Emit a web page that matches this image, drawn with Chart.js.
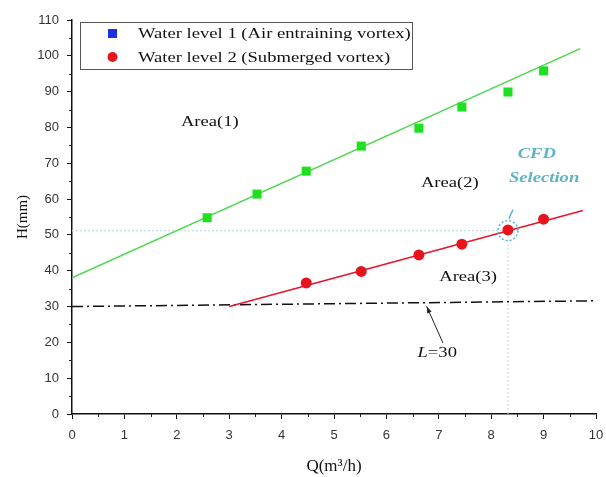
<!DOCTYPE html>
<html>
<head>
<meta charset="utf-8">
<script src="https://cdn.jsdelivr.net/npm/chart.js@4.4.1/dist/chart.umd.min.js"></script>
<style>
  html, body { margin: 0; padding: 0; background: #fff; }
  #wrap { width: 606px; height: 477px; }
</style>
</head>
<body>
<div id="wrap"><canvas id="chart" width="606" height="477"></canvas></div>
<script>
// 测量数据
const level1Q = [2.58, 3.53, 4.47, 5.52, 6.62, 7.44, 8.32, 9.0];
const level1H = [54.8, 61.4, 67.8, 74.8, 79.8, 85.7, 89.9, 95.8];
const level2Q = [4.47, 5.52, 6.62, 7.44, 8.32, 9.0];
const level2H = [36.6, 39.8, 44.4, 47.4, 51.4, 54.4];
// 拟合线与临界线
const fit1Q = [0, 9.7];
const fit1H = [38, 102];
const fit2Q = [3.0, 9.75];
const fit2H = [30, 56.8];
const limitQ = [0, 10];
const limitH = [30, 31.6];
// CFD 选点
const selQ = 8.32;
const selH = 51.2;
// 坐标轴
const xTicks = [0, 1, 2, 3, 4, 5, 6, 7, 8, 9, 10];
const yTicks = [0, 10, 20, 30, 40, 50, 60, 70, 80, 90, 100, 110];

const pts = (xs, ys) => xs.map((x, i) => ({x: x, y: ys[i]}));

const serif = '"Liberation Serif", "Times New Roman", serif';
const sans = '"Liberation Sans", Arial, sans-serif';

// 横向拉伸的文字（原图文字偏宽）
const wideText = (ctx, text, x, y, font, align) => {
    ctx.save();
    ctx.font = font;
    ctx.textAlign = align || 'center';
    ctx.textBaseline = 'middle';
    ctx.translate(x, y);
    ctx.scale(1.2, 1);
    ctx.fillText(text, 0, 0);
    ctx.restore();
};

const extras = {
    id: 'extras',
    afterDatasetsDraw(chart) {
        const {ctx, scales: {x, y}} = chart;
        ctx.save();
        // 次刻度
        ctx.strokeStyle = '#222';
        ctx.lineWidth = 1;
        ctx.beginPath();
        for (let i = 0; i < xTicks.length - 1; i++) {
            const px = Math.round(x.getPixelForValue(xTicks[i] + 0.5)) + 0.5;
            ctx.moveTo(px, y.bottom);
            ctx.lineTo(px, y.bottom + 3);
        }
        for (let i = 0; i < yTicks.length - 1; i++) {
            const py = Math.round(y.getPixelForValue(yTicks[i] + 5)) + 0.5;
            ctx.moveTo(x.left, py);
            ctx.lineTo(x.left - 3, py);
        }
        ctx.stroke();

        // CFD 选点圆圈
        const cx = x.getPixelForValue(selQ);
        const cy = y.getPixelForValue(selH);
        ctx.strokeStyle = '#5ab6d0';
        ctx.lineWidth = 1.5;
        ctx.setLineDash([2, 2]);
        ctx.beginPath();
        ctx.arc(cx, cy, 10, 0, Math.PI * 2);
        ctx.stroke();
        ctx.setLineDash([]);
        ctx.beginPath();
        ctx.moveTo(cx + 1, cy - 12);
        ctx.quadraticCurveTo(cx + 3, cy - 17, cx + 5, cy - 21);
        ctx.stroke();

        // 文字标注
        ctx.fillStyle = '#111';
        const f = '15.5px ' + serif;
        wideText(ctx, 'Area(1)', x.getPixelForValue(2.63), y.getPixelForValue(81.5), f);
        wideText(ctx, 'Area(2)', x.getPixelForValue(7.21), y.getPixelForValue(64.5), f);
        wideText(ctx, 'Area(3)', x.getPixelForValue(7.56), y.getPixelForValue(38.2), f);

        const lx = x.getPixelForValue(7.02);
        const ly = y.getPixelForValue(17);
        wideText(ctx, 'L', lx - 12, ly, 'italic 15.5px ' + serif, 'right');
        wideText(ctx, '=30', lx - 12, ly, '15.5px ' + serif, 'left');

        // 箭头
        ctx.strokeStyle = '#222';
        ctx.fillStyle = '#222';
        ctx.lineWidth = 1;
        const ax0 = x.getPixelForValue(7.08), ay0 = y.getPixelForValue(19.8);
        const ax1 = x.getPixelForValue(6.77), ay1 = y.getPixelForValue(30.0);
        ctx.beginPath();
        ctx.moveTo(ax0, ay0);
        ctx.lineTo(ax1, ay1);
        ctx.stroke();
        const ang = Math.atan2(ay1 - ay0, ax1 - ax0);
        ctx.beginPath();
        ctx.moveTo(ax1, ay1);
        ctx.lineTo(ax1 - 7 * Math.cos(ang - 0.35), ay1 - 7 * Math.sin(ang - 0.35));
        ctx.lineTo(ax1 - 7 * Math.cos(ang + 0.35), ay1 - 7 * Math.sin(ang + 0.35));
        ctx.closePath();
        ctx.fill();

        ctx.fillStyle = '#5fb4c6';
        const fb = 'italic bold 15.5px ' + serif;
        wideText(ctx, 'CFD', x.getPixelForValue(8.87), y.getPixelForValue(72.6), fb);
        wideText(ctx, 'Selection', x.getPixelForValue(9.01), y.getPixelForValue(65.9), fb);

        // 图例
        const bx = 80, by = 22, bw = 332, bh = 47;
        ctx.fillStyle = '#fff';
        ctx.fillRect(bx, by, bw, bh);
        ctx.strokeStyle = '#555';
        ctx.lineWidth = 1;
        ctx.strokeRect(bx + 0.5, by + 0.5, bw, bh);
        ctx.fillStyle = '#1a2fe0';
        ctx.fillRect(108, 29, 9, 9);
        ctx.fillStyle = '#e8141c';
        ctx.beginPath();
        ctx.arc(112.5, 57, 5, 0, Math.PI * 2);
        ctx.fill();
        ctx.fillStyle = '#111';
        wideText(ctx, chart.data.datasets[0].label, 138, 34, '15.5px ' + serif, 'left');
        wideText(ctx, chart.data.datasets[1].label, 138, 58, '15.5px ' + serif, 'left');
        ctx.restore();
    }
};

new Chart(document.getElementById('chart').getContext('2d'), {
    type: 'scatter',
    data: {
        datasets: [
            {
                label: 'Water level 1 (Air entraining vortex)',
                data: pts(level1Q, level1H),
                pointStyle: 'rect',
                pointRadius: 6.4,
                backgroundColor: '#1fe01f',
                borderColor: '#1fe01f',
                borderWidth: 0
            },
            {
                label: 'Water level 2 (Submerged vortex)',
                data: pts(level2Q, level2H),
                pointStyle: 'circle',
                pointRadius: 5.5,
                backgroundColor: '#e8141c',
                borderColor: '#e8141c',
                borderWidth: 0
            },
            {
                label: 'fit1',
                type: 'line',
                data: pts(fit1Q, fit1H),
                borderColor: '#4ad84a',
                borderWidth: 1.5,
                pointRadius: 0
            },
            {
                label: 'fit2',
                type: 'line',
                data: pts(fit2Q, fit2H),
                borderColor: '#e8142c',
                borderWidth: 1.5,
                pointRadius: 0
            },
            {
                label: 'limit',
                type: 'line',
                data: pts(limitQ, limitH),
                borderColor: '#111',
                borderWidth: 1.5,
                borderDash: [11, 4, 2, 4],
                pointRadius: 0
            },
            {
                label: 'selH',
                type: 'line',
                data: [{x: 0, y: selH}, {x: selQ, y: selH}],
                borderColor: '#c8e2e8',
                borderWidth: 1.5,
                borderDash: [2, 2],
                pointRadius: 0
            },
            {
                label: 'selQ',
                type: 'line',
                data: [{x: selQ, y: 0}, {x: selQ, y: selH}],
                borderColor: '#c8d4d8',
                borderWidth: 1,
                borderDash: [2, 2],
                pointRadius: 0
            }
        ]
    },
    options: {
        responsive: false,
        animation: false,
        layout: {padding: {top: 20, right: 10, left: 0, bottom: 0}},
        plugins: {
            legend: {display: false},
            tooltip: {enabled: false}
        },
        scales: {
            x: {
                type: 'linear',
                min: 0,
                max: 10,
                afterBuildTicks: (scale) => { scale.ticks = xTicks.map(v => ({value: v})); },
                afterFit: (scale) => {
                    scale.height = 63;
                    scale.paddingLeft = 0;
                    scale.paddingRight = 0;
                },
                border: {display: true, color: '#111', width: 1.5},
                grid: {drawOnChartArea: false, drawTicks: true, tickLength: 5, color: '#111', lineWidth: 1},
                ticks: {color: '#333', font: {family: sans, size: 13}, padding: 9, maxRotation: 0},
                title: {display: true, text: 'Q(m³/h)', color: '#111', font: {family: serif, size: 17}, padding: {top: 0, bottom: 0}}
            },
            y: {
                type: 'linear',
                min: 0,
                max: 110,
                afterBuildTicks: (scale) => { scale.ticks = yTicks.map(v => ({value: v})); },
                afterFit: (scale) => { scale.width = 72; },
                border: {display: true, color: '#111', width: 1.5},
                grid: {drawOnChartArea: false, drawTicks: true, tickLength: 5, color: '#111', lineWidth: 1},
                ticks: {color: '#333', font: {family: sans, size: 13}, padding: 8},
                title: {display: true, text: 'H(mm)', color: '#111', font: {family: serif, size: 15}, padding: {top: 14, bottom: 0}}
            }
        }
    },
    plugins: [extras]
});
</script>
</body>
</html>
